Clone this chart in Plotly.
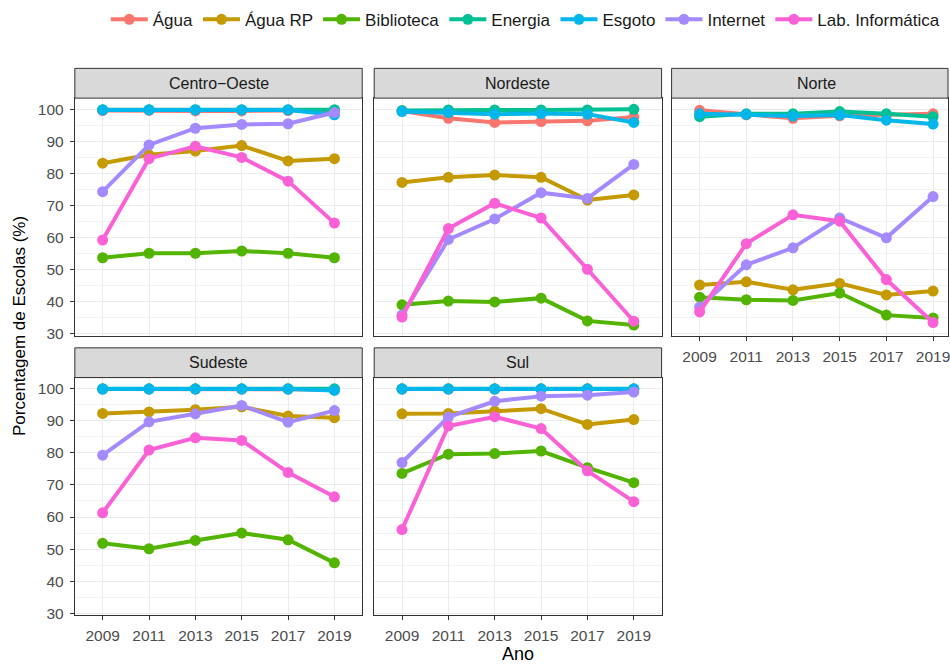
import plotly.graph_objects as go

# Anos do Censo Escolar
anos = [2009, 2011, 2013, 2015, 2017, 2019]

indicadores = ["Água", "Água RP", "Biblioteca", "Energia", "Esgoto", "Internet", "Lab. Informática"]
cores = ["#F8766D", "#C49A00", "#53B400", "#00C094", "#00B6EB", "#A58AFF", "#FB61D7"]

# Porcentagem de escolas com cada item, por região
centro_oeste = {
    "Água":             [99.6, 99.7, 99.5, 99.5, 99.6, 99.7],
    "Água RP":          [83.2, 85.8, 87.0, 88.7, 83.9, 84.6],
    "Biblioteca":       [53.7, 55.1, 55.1, 55.8, 55.1, 53.7],
    "Energia":          [99.9, 99.9, 99.9, 99.9, 99.9, 99.9],
    "Esgoto":           [99.8, 99.8, 99.8, 99.8, 99.8, 98.3],
    "Internet":         [74.3, 88.9, 94.1, 95.3, 95.5, 99.0],
    "Lab. Informática": [59.2, 84.6, 88.5, 85.0, 77.6, 64.5],
}
nordeste = {
    "Água":             [99.5, 97.2, 95.9, 96.2, 96.4, 97.6],
    "Água RP":          [77.2, 78.8, 79.5, 78.8, 71.7, 73.3],
    "Biblioteca":       [39.0, 40.2, 39.9, 41.1, 34.0, 32.7],
    "Energia":          [99.6, 99.8, 99.8, 99.8, 99.8, 100.0],
    "Esgoto":           [99.3, 99.0, 98.5, 98.7, 98.5, 95.9],
    "Internet":         [35.8, 59.4, 65.8, 74.0, 72.2, 82.8],
    "Lab. Informática": [35.2, 62.8, 70.7, 66.1, 50.1, 33.9],
}
norte = {
    "Água":             [99.7, 98.3, 97.2, 98.0, 98.4, 98.6],
    "Água RP":          [45.2, 46.2, 43.7, 45.7, 42.1, 43.3],
    "Biblioteca":       [41.4, 40.6, 40.4, 42.7, 35.8, 34.9],
    "Energia":          [97.7, 98.6, 98.6, 99.3, 98.6, 97.7],
    "Esgoto":           [98.6, 98.4, 97.9, 98.2, 96.6, 95.4],
    "Internet":         [38.3, 51.5, 56.8, 66.1, 59.9, 72.8],
    "Lab. Informática": [36.8, 58.1, 67.1, 65.1, 46.9, 33.5],
}
sudeste = {
    "Água":             [99.9, 99.9, 99.9, 99.9, 99.9, 99.8],
    "Água RP":          [92.3, 92.8, 93.5, 94.4, 91.5, 91.0],
    "Biblioteca":       [51.8, 50.1, 52.7, 55.0, 52.9, 45.7],
    "Energia":          [100.0, 100.0, 100.0, 100.0, 100.0, 100.0],
    "Esgoto":           [99.9, 99.9, 99.9, 99.9, 99.9, 99.5],
    "Internet":         [79.3, 89.7, 92.2, 94.8, 89.6, 93.2],
    "Lab. Informática": [61.3, 80.9, 84.7, 83.9, 73.9, 66.3],
}
sul = {
    "Água":             [99.9, 99.9, 99.9, 99.9, 99.9, 99.9],
    "Água RP":          [92.2, 92.3, 93.0, 93.8, 88.9, 90.4],
    "Biblioteca":       [73.6, 79.6, 79.8, 80.6, 75.4, 70.7],
    "Energia":          [100.0, 100.0, 100.0, 100.0, 100.0, 100.0],
    "Esgoto":           [99.9, 99.9, 99.9, 99.9, 99.9, 99.9],
    "Internet":         [77.0, 91.2, 96.1, 97.7, 98.0, 99.0],
    "Lab. Informática": [56.1, 88.4, 91.3, 87.6, 74.4, 64.8],
}

W, H = 950, 669
FONT = "Liberation Sans, Arial, Helvetica, sans-serif"

def px_x(v):
    return v / W

def px_y(v):
    return 1 - v / H

# panel geometry (pixels): columns and rows
cols = [(75, 363), (375, 663), (673, 950)]
rows = [(99, 339), (381, 621)]
strip_h = 30

paineis = [
    ("Centro\u2212Oeste", centro_oeste, 0, 0),
    ("Nordeste", nordeste, 0, 1),
    ("Norte", norte, 0, 2),
    ("Sudeste", sudeste, 1, 0),
    ("Sul", sul, 1, 1),
]

fig = go.Figure()
layout_axes = {}
shapes = []
annotations = []

for i, (nome, dados, r, c) in enumerate(paineis):
    k = "" if i == 0 else str(i + 1)
    xa, ya = "x" + k, "y" + k
    x0, x1 = cols[c]
    y0, y1 = rows[r]
    for ind, cor in zip(indicadores, cores):
        fig.add_trace(go.Scatter(
            x=anos, y=dados[ind], name=ind, mode="lines+markers",
            line=dict(color=cor, width=4),
            marker=dict(color=cor, size=11),
            legendgroup=ind, showlegend=(i == 0),
            xaxis=xa, yaxis=ya,
        ))
    show_x = (r == 1) or (c == 2)
    show_y = (c == 0)
    # the right-hand panel runs past the page edge
    if c == 2:
        xrange = [2007.8, 2019.64]
        strip_center = (x0 + 963) / 2
    else:
        xrange = [2007.8, 2020.2]
        strip_center = (x0 + x1) / 2
    layout_axes["xaxis" + k] = dict(
        domain=[px_x(x0), px_x(x1)], anchor=ya, range=xrange,
        tickmode="array", tickvals=anos, ticktext=[str(a) for a in anos],
        showgrid=True, gridcolor="#EBEBEB", gridwidth=1, zeroline=False,
        showline=True, linecolor="#333333", linewidth=1, mirror=True,
        ticks="outside" if show_x else "", ticklen=4, tickcolor="#333333",
        showticklabels=show_x, ticklabelstandoff=2, ticklabeloverflow="allow",
        tickfont=dict(family=FONT, size=15.5, color="#4D4D4D"),
    )
    layout_axes["yaxis" + k] = dict(
        domain=[px_y(y1), px_y(y0)], anchor=xa, range=[29.3, 103.5],
        tick0=0, dtick=10,
        showgrid=True, gridcolor="#EBEBEB", gridwidth=1, zeroline=False,
        minor=dict(dtick=5, tick0=0, showgrid=True, gridcolor="#F3F3F3", gridwidth=0.6),
        showline=True, linecolor="#333333", linewidth=1, mirror=True,
        ticks="outside" if show_y else "", ticklen=4, tickcolor="#333333",
        showticklabels=show_y, ticklabelstandoff=3,
        tickfont=dict(family=FONT, size=15.5, color="#4D4D4D"),
    )
    # faixa com o nome da região
    shapes.append(dict(
        type="rect", xref="paper", yref="paper",
        x0=px_x(x0), x1=px_x(x1), y0=px_y(y0), y1=px_y(y0 - strip_h),
        fillcolor="#D9D9D9", line=dict(color="#333333", width=1), layer="above",
    ))
    annotations.append(dict(
        text=nome, xref="paper", yref="paper",
        x=px_x(strip_center), y=px_y(y0 - strip_h / 2), showarrow=False,
        xanchor="center", yanchor="middle",
        font=dict(family=FONT, size=16, color="#1A1A1A"),
    ))

annotations.append(dict(
    text="Ano", xref="paper", yref="paper", x=px_x(519), y=px_y(660),
    showarrow=False, xanchor="center", yanchor="middle",
    font=dict(family=FONT, size=18, color="#000000"),
))
annotations.append(dict(
    text="Porcentagem de Escolas (%)", xref="paper", yref="paper",
    x=px_x(19), y=px_y(329), textangle=-90, showarrow=False,
    xanchor="center", yanchor="middle",
    font=dict(family=FONT, size=17, color="#000000"),
))

fig.update_layout(
    width=W, height=H,
    margin=dict(l=0, r=0, t=0, b=0),
    paper_bgcolor="white", plot_bgcolor="white",
    showlegend=True,
    legend=dict(
        orientation="h", x=px_x(106), y=px_y(20), xanchor="left", yanchor="middle",
        font=dict(family=FONT, size=17, color="#1A1A1A"),
        itemwidth=37, tracegroupgap=0, bgcolor="rgba(0,0,0,0)",
    ),
    shapes=shapes,
    annotations=annotations,
    **layout_axes,
)

fig.write_html("out.html")
